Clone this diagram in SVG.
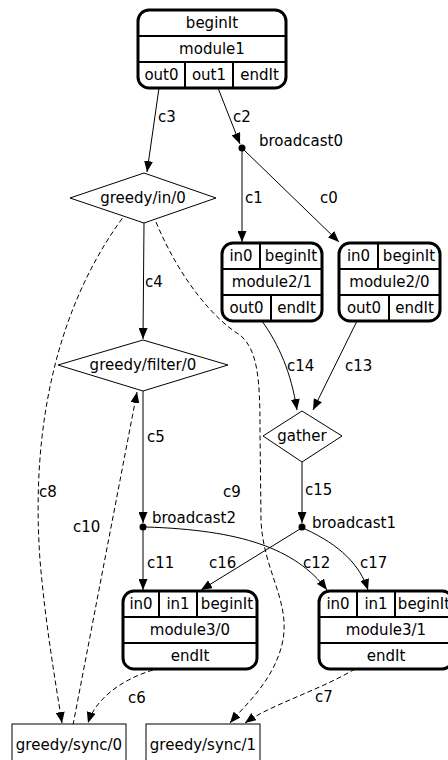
<svg xmlns="http://www.w3.org/2000/svg" width="448" height="760" viewBox="0 0 448 760">
<style>
text{font-family:"DejaVu Sans",Verdana,sans-serif;font-size:15px;fill:#000}
.c{text-anchor:middle}
.rec{fill:#fff;stroke:#000;stroke-width:3}
.div{stroke:#000;stroke-width:2;fill:none}
.dia{fill:#fff;stroke:#000;stroke-width:1}
.e{fill:none;stroke:#000;stroke-width:1}
.d{stroke-dasharray:5,3}
</style>
<defs>
<marker id="ah" markerWidth="11" markerHeight="9" refX="11" refY="4.5" orient="auto" markerUnits="userSpaceOnUse">
<path d="M0,0 L11,4.5 L0,9 Z" fill="#000"/>
</marker>
</defs>
<rect width="448" height="760" fill="#fff"/>
<g id="connectors">
<path class="e" d="M159,88 L147,172" marker-end="url(#ah)"/>
<path class="e" d="M218,88 L240,144" marker-end="url(#ah)"/>
<path class="e" d="M242,151 L242,242" marker-end="url(#ah)"/>
<path class="e" d="M244,150 L339,242" marker-end="url(#ah)"/>
<path class="e" d="M144,223 L143,339" marker-end="url(#ah)"/>
<path class="e" d="M262,321 C279,345 291,372 297,410" marker-end="url(#ah)"/>
<path class="e" d="M357,321 L313,410" marker-end="url(#ah)"/>
<path class="e" d="M302,462 L302,523" marker-end="url(#ah)"/>
<path class="e" d="M143,391 L143,523" marker-end="url(#ah)"/>
<path class="e" d="M143,530 L143,590" marker-end="url(#ah)"/>
<path class="e" d="M300,529 L201,590" marker-end="url(#ah)"/>
<path class="e" d="M146,527 C240,530 295,548 327,590" marker-end="url(#ah)"/>
<path class="e" d="M305,529 C340,545 360,565 368,590" marker-end="url(#ah)"/>
<path class="e d" d="M127,212 C60,300 30,420 40,560 C45,620 55,680 62,723" marker-end="url(#ah)"/>
<path class="e d" d="M73,725 L137,392" marker-end="url(#ah)"/>
<path class="e d" d="M156,222 C180,280 215,320 240,335 C258,350 260,380 260,430 L261,520 C263,570 290,600 283,640 C275,680 245,705 230,723" marker-end="url(#ah)"/>
<path class="e d" d="M153,670 C120,680 95,700 88,723" marker-end="url(#ah)"/>
<path class="e d" d="M355,669 C320,690 270,705 245,723" marker-end="url(#ah)"/>
<text x="158" y="122">c3</text>
<text x="233" y="122">c2</text>
<text x="245" y="203">c1</text>
<text x="320" y="203">c0</text>
<text x="145" y="287">c4</text>
<text x="287" y="371">c14</text>
<text x="345" y="371">c13</text>
<text x="147" y="442">c5</text>
<text x="305" y="495">c15</text>
<text x="147" y="568">c11</text>
<text x="209" y="568">c16</text>
<text x="303" y="568">c12</text>
<text x="360" y="568">c17</text>
<text x="39" y="497">c8</text>
<text x="223" y="497">c9</text>
<text x="73" y="532">c10</text>
<text x="128" y="703">c6</text>
<text x="315" y="702">c7</text>
</g>
<g id="module1">
<rect class="rec" x="138" y="10" width="148" height="78" rx="11"/>
<path class="div" d="M138,36 H286 M138,62 H286 M185,62 V88 M233,62 V88"/>
<text class="c" x="212" y="28">beginIt</text>
<text class="c" x="212" y="54">module1</text>
<text class="c" x="161.5" y="80">out0</text>
<text class="c" x="209" y="80">out1</text>
<text class="c" x="259.5" y="80">endIt</text>
</g>
<g id="broadcast0">
<circle cx="242" cy="148" r="3.5" fill="#000"/>
<text x="259" y="146">broadcast0</text>
</g>
<g id="greedy_in_0">
<polygon class="dia" points="70,198 144,173 216,198 144,223"/>
<text class="c" x="143" y="203">greedy/in/0</text>
</g>
<g id="module2_1">
<rect class="rec" x="222" y="243" width="100" height="78" rx="11"/>
<path class="div" d="M222,269 H322 M222,295 H322 M260,243 V269 M271,295 V321"/>
<text class="c" x="241" y="261">in0</text>
<text class="c" x="291" y="261">beginIt</text>
<text class="c" x="272" y="287">module2/1</text>
<text class="c" x="246.5" y="313">out0</text>
<text class="c" x="296.5" y="313">endIt</text>
</g>
<g id="module2_0">
<rect class="rec" x="339" y="243" width="101" height="78" rx="11"/>
<path class="div" d="M339,269 H440 M339,295 H440 M378,243 V269 M389,295 V321"/>
<text class="c" x="358.5" y="261">in0</text>
<text class="c" x="409" y="261">beginIt</text>
<text class="c" x="389.5" y="287">module2/0</text>
<text class="c" x="364" y="313">out0</text>
<text class="c" x="414.5" y="313">endIt</text>
</g>
<g id="greedy_filter_0">
<polygon class="dia" points="58,365 143,340 228,365 143,391"/>
<text class="c" x="143" y="370">greedy/filter/0</text>
</g>
<g id="gather">
<polygon class="dia" points="263,436 302,411 342,436 302,462"/>
<text class="c" x="302" y="441">gather</text>
</g>
<g id="broadcast2">
<circle cx="143" cy="527" r="3.5" fill="#000"/>
<text x="152" y="523">broadcast2</text>
</g>
<g id="broadcast1">
<circle cx="302" cy="527" r="3.5" fill="#000"/>
<text x="312" y="528">broadcast1</text>
</g>
<g id="module3_0">
<rect class="rec" x="123" y="591" width="134" height="78" rx="11"/>
<path class="div" d="M123,617 H257 M123,643 H257 M159,591 V617 M197,591 V617"/>
<text class="c" x="141" y="609">in0</text>
<text class="c" x="178" y="609">in1</text>
<text class="c" x="227" y="609">beginIt</text>
<text class="c" x="190" y="635">module3/0</text>
<text class="c" x="190" y="661">endIt</text>
</g>
<g id="module3_1">
<rect class="rec" x="319" y="591" width="134" height="78" rx="11"/>
<path class="div" d="M319,617 H453 M319,643 H453 M357,591 V617 M395,591 V617"/>
<text class="c" x="338" y="609">in0</text>
<text class="c" x="376" y="609">in1</text>
<text class="c" x="424" y="609">beginIt</text>
<text class="c" x="386" y="635">module3/1</text>
<text class="c" x="386" y="661">endIt</text>
</g>
<g id="greedy_sync_0">
<rect x="12" y="724" width="114" height="42" fill="#fff" stroke="#000" stroke-width="1"/>
<text class="c" x="69" y="750">greedy/sync/0</text>
</g>
<g id="greedy_sync_1">
<rect x="146" y="724" width="114" height="42" fill="#fff" stroke="#000" stroke-width="1"/>
<text class="c" x="203" y="750">greedy/sync/1</text>
</g>
</svg>
